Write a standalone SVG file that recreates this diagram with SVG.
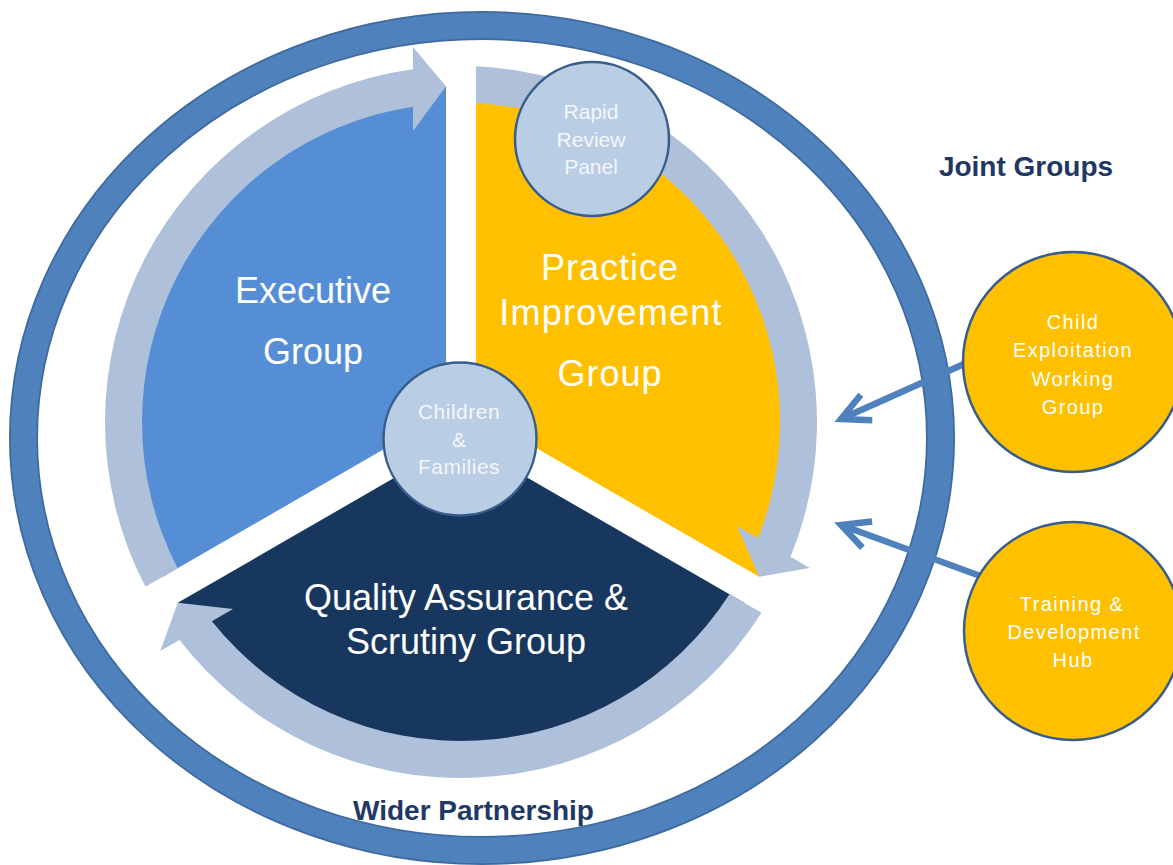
<svg xmlns="http://www.w3.org/2000/svg" width="1173" height="865" viewBox="0 0 1173 865">
  <style>
    text { font-family: "Liberation Sans", Arial, sans-serif; text-anchor: middle; }
    .big { font-size: 36px; fill: #FFFFFF; }
    .small { font-size: 21px; fill: #F4F6FA; }
    .joint { font-size: 20px; fill: #FFFFFF; letter-spacing: 1.4px; }
    .title { font-size: 28px; font-weight: bold; fill: #1F3864; }
    .band { fill: #AFC0DB; }
    .bubble { fill: #B9CDE5; stroke: #385D8A; stroke-width: 2.5; }
    .jcircle { fill: #FFC000; stroke: #385D8A; stroke-width: 2.5; }
    .conn { fill: none; stroke: #4F81BD; stroke-width: 6.5; marker-end: url(#openArrow); }
  </style>
  <defs>
    <marker id="openArrow" markerUnits="userSpaceOnUse" viewBox="-40 -22 48 44" refX="0" refY="0" markerWidth="48" markerHeight="44" orient="auto">
      <path d="M -28 -14 L 0 0 L -28 14" fill="none" stroke="#4F81BD" stroke-width="6.5" stroke-linejoin="miter"/>
    </marker>
    <path id="sectorShape" d="M 446 413.34 L 446 86.34 A 336 336 0 0 0 162.82 576.84 Z"/>
    <path id="bandShape" d="M 177.55 568.34 L 145.48 586.85 A 356 356 0 0 1 413 69.25 L 413 47 L 446 86.3 L 413 131 L 413 106.63 A 319 319 0 0 0 177.55 568.34 Z"/>
  </defs>

  <rect x="0" y="0" width="1173" height="865" fill="#FFFFFF"/>

  <g id="wider-partnership">
    <ellipse cx="482" cy="438" rx="458.5" ry="412.5" fill="none" stroke="#3E6A9E" stroke-width="29"/>
    <ellipse cx="482" cy="438" rx="458.5" ry="412.5" fill="none" stroke="#4F81BD" stroke-width="25.5"/>
    <text class="title" x="473.5" y="820">Wider Partnership</text>
  </g>

  <g id="executive-group">
    <use href="#sectorShape" fill="#558ED5"/>
    <text class="big" x="313" y="303">Executive</text>
    <text class="big" x="313" y="364">Group</text>
  </g>

  <g id="practice-improvement-group">
    <use href="#sectorShape" fill="#FFC000" transform="rotate(120 461 422)"/>
    <text class="big" x="610" y="280" style="letter-spacing:1px">Practice</text>
    <text class="big" x="611" y="325" style="letter-spacing:1.2px">Improvement</text>
    <text class="big" x="610" y="386" style="letter-spacing:1px">Group</text>
  </g>

  <g id="quality-assurance-group">
    <use href="#sectorShape" fill="#17375E" transform="rotate(240 461 422)"/>
    <text class="big" x="466" y="610">Quality Assurance &amp;</text>
    <text class="big" x="466" y="654">Scrutiny Group</text>
  </g>

  <g id="cycle-arrows">
    <use href="#bandShape" class="band"/>
    <use href="#bandShape" class="band" transform="rotate(120 461 422)"/>
    <use href="#bandShape" class="band" transform="rotate(240 461 422)"/>
  </g>

  <g id="rapid-review-panel">
    <circle class="bubble" cx="592" cy="139" r="77"/>
    <text class="small" x="591" y="119">Rapid</text>
    <text class="small" x="591" y="147">Review</text>
    <text class="small" x="591" y="174">Panel</text>
  </g>

  <g id="children-families">
    <circle class="bubble" cx="460" cy="439" r="76.5"/>
    <text class="small" x="459" y="419" style="letter-spacing:0.5px">Children</text>
    <text class="small" x="459" y="447">&amp;</text>
    <text class="small" x="459" y="474" style="letter-spacing:0.5px">Families</text>
  </g>

  <g id="joint-groups-title">
    <text class="title" x="1026" y="176">Joint Groups</text>
  </g>

  <g id="connectors">
    <line class="conn" x1="964" y1="364" x2="841" y2="419"/>
    <line class="conn" x1="983" y1="577" x2="841" y2="525"/>
  </g>

  <g id="child-exploitation-working-group">
    <circle class="jcircle" cx="1073" cy="362" r="110"/>
    <text class="joint" x="1073" y="329">Child</text>
    <text class="joint" x="1073" y="357">Exploitation</text>
    <text class="joint" x="1073" y="386">Working</text>
    <text class="joint" x="1073" y="414">Group</text>
  </g>

  <g id="training-development-hub">
    <circle class="jcircle" cx="1073" cy="631" r="109"/>
    <text class="joint" x="1072" y="611">Training &amp;</text>
    <text class="joint" x="1074" y="639">Development</text>
    <text class="joint" x="1073" y="667">Hub</text>
  </g>
</svg>
